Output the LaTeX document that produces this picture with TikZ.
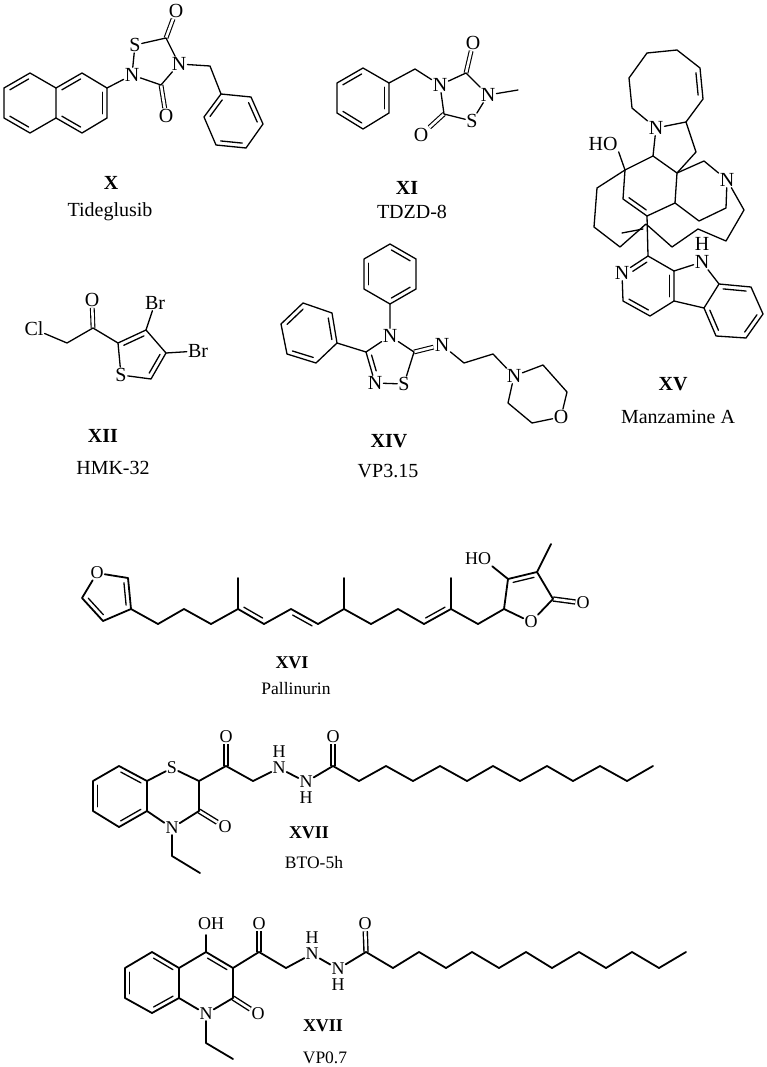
\documentclass[tikz,border=0pt]{standalone}
\usepackage{fontspec}
\setmainfont{Liberation Serif}
\usetikzlibrary{calc}
\tikzset{
	bond/.style={line width=1.3pt,line join=round,line cap=round},
	heavy/.style={line width=1.8pt,line join=round,line cap=round},
	dblbond/.style={line width=1.1pt,double,double distance=2.6pt},
	heavydbl/.style={line width=1.4pt,double,double distance=2.6pt},
	atom/.style={inner sep=1pt,font=\fontsize{20}{20}\selectfont},
	atomb/.style={inner sep=1pt,font=\fontsize{18}{18}\selectfont},
	code/.style={inner sep=0pt,font=\fontsize{20}{20}\selectfont\bfseries},
	codeb/.style={inner sep=0pt,font=\fontsize{18}{18}\selectfont\bfseries},
	drug/.style={inner sep=0pt,font=\fontsize{20}{20}\selectfont},
	drugb/.style={inner sep=0pt,font=\fontsize{17.5}{18}\selectfont}
}
% inner line of a double bond, on the right of the way from #2 to #3
\newcommand{\inbond}[4][bond]{\draw[#1] ($(#2)!.14!(#3)!4.5pt!-90:(#3)$) -- ($(#3)!.14!(#2)!4.5pt!90:(#2)$);}
\newcommand{\inbondN}[4][bond]{\draw[#1] ($(#2)!#4!(#3)!4.5pt!-90:(#3)$) -- ($(#3)!.14!(#2)!4.5pt!90:(#2)$);}
\begin{document}
\begin{tikzpicture}[x=1pt,y=-1pt]
	\useasboundingbox (0,0) rectangle (767,1067);

	% X
	\coordinate (xa) at (4,88); \coordinate (xb) at (30,73); \coordinate (xc) at (56,88);
	\coordinate (xd) at (56,118); \coordinate (xe) at (30,133); \coordinate (xf) at (4,118);
	\coordinate (xg) at (82,73); \coordinate (xh) at (107,88); \coordinate (xi) at (107,118);
	\coordinate (xj) at (82,133);
	\node[atom] (xn) at (132,75) {N};
	\node[atom] (xs) at (135,45) {S};
	\coordinate (xk) at (166,38);
	\node[atom] (xo) at (176,11) {O};
	\node[atom] (xm) at (179,64) {N};
	\coordinate (xl) at (161,85);
	\node[atom] (xp) at (166,116) {O};
	\coordinate (xq) at (210,66);
	\coordinate (xr) at (221,94); \coordinate (xt) at (251,97); \coordinate (xu) at (263,124);
	\coordinate (xv) at (246,148); \coordinate (xw) at (216,145); \coordinate (xy) at (204,117);
	\draw[dblbond] (xk) -- (xo);
	\draw[dblbond] (xl) -- (xp);
	\draw[bond] (xa) -- (xb) -- (xc) -- (xd) -- (xe) -- (xf) -- cycle;
	\draw[bond] (xc) -- (xg) -- (xh) -- (xi) -- (xj) -- (xd);
	\draw[bond] (xh) -- (xn) -- (xs) -- (xk) -- (xm) -- (xl) -- (xn);
	\draw[bond] (xm) -- (xq) -- (xr) -- (xt) -- (xu) -- (xv) -- (xw) -- (xy) -- (xr);
	\inbond{xa}{xb}{} \inbond{xe}{xf}{} \inbond{xc}{xg}{} \inbond{xh}{xi}{} \inbond{xj}{xd}{}
	\inbond{xy}{xr}{} \inbond{xt}{xu}{} \inbond{xv}{xw}{}
	\node[code] (xcode) at (111,183) {X};
	\node[drug] (xname) at (110,212) {Tideglusib};

	% XI
	\coordinate (ya) at (337,83); \coordinate (yb) at (363,68); \coordinate (yc) at (389,83);
	\coordinate (yd) at (389,113); \coordinate (ye) at (363,129); \coordinate (yf) at (337,113);
	\coordinate (yg) at (415,69);
	\node[atom] (yn) at (440,85) {N};
	\coordinate (yh) at (466,73);
	\node[atom] (yo) at (473,43) {O};
	\node[atom] (ym) at (488,95) {N};
	\coordinate (yi) at (518,90);
	\node[atom] (ys) at (472,121) {S};
	\coordinate (yj) at (444,114);
	\node[atom] (yp) at (421,135) {O};
	\draw[dblbond] (yh) -- (yo);
	\draw[dblbond] (yj) -- (yp);
	\draw[bond] (ya) -- (yb) -- (yc) -- (yd) -- (ye) -- (yf) -- cycle;
	\draw[bond] (yc) -- (yg) -- (yn) -- (yh) -- (ym) -- (ys) -- (yj) -- (yn);
	\draw[bond] (ym) -- (yi);
	\inbond{ya}{yb}{} \inbond{yc}{yd}{} \inbond{ye}{yf}{}
	\node[code] (ycode) at (407,188) {XI};
	\node[drug] (yname) at (412,212) {TDZD-8};

	% XV
	\coordinate (ma) at (629,78); \coordinate (mb) at (647,53); \coordinate (mc) at (677,50);
	\coordinate (md) at (700,68); \coordinate (me) at (703,99); \coordinate (mf) at (686,122);
	\node[atom] (mn) at (656,128) {N};
	\coordinate (mg) at (632,108);
	\coordinate (mh) at (696,152); \coordinate (mi) at (677,173); \coordinate (mj) at (653,156);
	\coordinate (mk) at (625,170);
	\node[atom] (mho) at (603,144) {HO};
	\coordinate (ml) at (597,188); \coordinate (mm) at (594,227); \coordinate (mo) at (620,247);
	\coordinate (mp) at (646,224); \coordinate (mq) at (672,247); \coordinate (mr) at (698,229);
	\coordinate (ms) at (726,241); \coordinate (mt) at (744,210);
	\node[atom] (mu) at (727,180) {N};
	\coordinate (mv) at (704,161); \coordinate (mw) at (726,208); \coordinate (mx) at (699,221);
	\coordinate (my) at (675,203); \coordinate (mz) at (647,216); \coordinate (maa) at (623,199);
	\coordinate (mab) at (648,256);
	\node[atom] (mac) at (622,273) {N};
	\coordinate (mad) at (623,301); \coordinate (mae) at (650,316); \coordinate (maf) at (674,301);
	\coordinate (mag) at (674,271);
	\node[atom] (mah) at (702,262) {N};
	\node[atom] (mai) at (702,244) {H};
	\coordinate (maj) at (719,284); \coordinate (mak) at (704,308); \coordinate (mal) at (751,287);
	\coordinate (mam) at (763,314); \coordinate (man) at (746,338); \coordinate (mao) at (716,336);
	\coordinate (map) at (622,233); \coordinate (maq) at (643,229);
	\draw[bond] (mn) -- (mg) -- (ma) -- (mb) -- (mc) -- (md) -- (me) -- (mf) -- (mn);
	\draw[bond] (mf) -- (mh) -- (mi) -- (mj) -- (mn);
	\draw[bond] (mj) -- (mk) -- (ml) -- (mm) -- (mo) -- (mp) -- (mq) -- (mr) -- (ms) -- (mt) -- (mu);
	\draw[bond] (mk) -- (mho.south east);
	\draw[bond] (mi) -- (mv) -- (mu) -- (mw) -- (mx) -- (my) -- (mi);
	\draw[bond] (my) -- (mz) -- (maa) -- (mk);
	\draw[bond] (mz) -- (mab) -- (mac) -- (mad) -- (mae) -- (maf) -- (mag) -- (mab);
	\draw[bond] (mag) -- (mah) -- (maj) -- (mak) -- (maf);
	\draw[bond] (maj) -- (mal) -- (mam) -- (man) -- (mao) -- (mak);
	\draw[bond] (map) -- (maq);
	\inbond{md}{me}{} \inbond{mz}{maa}{}
	\inbondN{mac}{mab}{.32} \inbond{mag}{maf}{} \inbond{mae}{mad}{}
	\inbond{maj}{mal}{} \inbond{mam}{man}{} \inbond{mao}{mak}{}
	\node[code] (mcode) at (673,384) {XV};
	\node[drug] (mname) at (678,417) {Manzamine A};

	% XII
	\node[atom] (tcl) at (34,329) {Cl};
	\coordinate (ta) at (67,343); \coordinate (tb) at (93,328);
	\node[atom] (to) at (92,300) {O};
	\coordinate (tc) at (118,343); \coordinate (td) at (146,330);
	\node[atom] (tbr) at (155,303) {Br};
	\coordinate (te) at (166,353);
	\node[atom] (tbs) at (198,351) {Br};
	\coordinate (tf) at (151,379);
	\node[atom] (ts) at (121,375) {S};
	\draw[dblbond] (tb) -- (to);
	\draw[bond] (tcl) -- (ta) -- (tb) -- (tc) -- (td) -- (te) -- (tf) -- (ts) -- (tc);
	\draw[bond] (td) -- (tbr);
	\draw[bond] (te) -- (tbs);
	\inbond{tc}{td}{} \inbond{te}{tf}{}
	\node[code] (tcode) at (103,436) {XII};
	\node[drug] (tname) at (113,468) {HMK-32};

	% XIV
	\coordinate (va) at (390,244); \coordinate (vb) at (416,259); \coordinate (vc) at (416,289);
	\coordinate (vd) at (390,304); \coordinate (ve) at (364,289); \coordinate (vf) at (364,259);
	\node[atom] (vn) at (390,336) {N};
	\coordinate (vg) at (414,352);
	\node[atom] (vm) at (442,345) {N};
	\node[atom] (vs) at (404,384) {S};
	\node[atom] (vp) at (375,383) {N};
	\coordinate (vh) at (366,352);
	\coordinate (vi) at (337,343); \coordinate (vj) at (332,313); \coordinate (vk) at (303,303);
	\coordinate (vl) at (281,324); \coordinate (vt) at (287,354); \coordinate (vu) at (316,363);
	\coordinate (vv) at (464,363); \coordinate (vw) at (493,354);
	\node[atom] (vx) at (514,376) {N};
	\coordinate (vy) at (543,365); \coordinate (vz) at (567,392);
	\node[atom] (vo) at (561,417) {O};
	\coordinate (vaa) at (532,423); \coordinate (vab) at (508,403);
	\draw[dblbond] (vg) -- (vm);
	\draw[bond] (va) -- (vb) -- (vc) -- (vd) -- (ve) -- (vf) -- cycle;
	\draw[bond] (vd) -- (vn) -- (vg) -- (vs) -- (vp) -- (vh) -- (vn);
	\draw[bond] (vh) -- (vi) -- (vj) -- (vk) -- (vl) -- (vt) -- (vu) -- (vi);
	\draw[bond] (vm) -- (vv) -- (vw) -- (vx) -- (vy) -- (vz) -- (vo) -- (vaa) -- (vab) -- (vx);
	\inbond{va}{vb}{} \inbond{vc}{vd}{} \inbond{ve}{vf}{}
	\inbond{vj}{vi}{} \inbond{vl}{vk}{} \inbond{vu}{vt}{}
	\inbondN{vp}{vh}{.35}
	\node[code] (vcode) at (389,441) {XIV};
	\node[drug] (vname) at (388,471) {VP3.15};

	% XVI
	\node[atomb] (po) at (97,573) {O};
	\coordinate (pa) at (128,578); \coordinate (pb) at (131,609);
	\coordinate (pc) at (103,621); \coordinate (pd) at (82,598);
	\coordinate (pe) at (158,624); \coordinate (pf) at (184,609); \coordinate (pg) at (211,624);
	\coordinate (ph) at (238,609); \coordinate (pi) at (238,578); \coordinate (pj) at (264,624);
	\coordinate (pk) at (291,609); \coordinate (pl) at (318,624); \coordinate (pm) at (344,609);
	\coordinate (pn) at (344,578); \coordinate (pp) at (371,624); \coordinate (pq) at (398,609);
	\coordinate (pr) at (424,624); \coordinate (ps) at (451,609); \coordinate (pt) at (451,578);
	\coordinate (pu) at (478,624); \coordinate (pv) at (504,609);
	\node[atomb] (pw) at (531,622) {O};
	\coordinate (px) at (553,599);
	\node[atomb] (py) at (583,603) {O};
	\coordinate (pz) at (537,572); \coordinate (paa) at (551,544); \coordinate (pab) at (508,579);
	\node[atomb] (pho) at (478,559) {HO};
	\draw[heavydbl] (px) -- (py);
	\draw[heavy] (po) -- (pa) -- (pb) -- (pc) -- (pd) -- (po);
	\draw[heavy] (pb) -- (pe) -- (pf) -- (pg) -- (ph) -- (pj) -- (pk) -- (pl) -- (pm) -- (pp) -- (pq) -- (pr) -- (ps) -- (pu) -- (pv) -- (pab) -- (pz) -- (px) -- (pw) -- (pv);
	\draw[heavy] (ph) -- (pi);
	\draw[heavy] (pm) -- (pn);
	\draw[heavy] (ps) -- (pt);
	\draw[heavy] (pz) -- (paa);
	\draw[heavy] (pab) -- (pho.south east);
	\inbond{pa}{pb}{} \inbond{pc}{pd}{} \inbond{pj}{ph}{} \inbond{pk}{pl}{} \inbond{ps}{pr}{} \inbond{pab}{pz}{}
	\node[codeb] (pcode) at (292,663) {XVI};
	\node[drugb] (pname) at (296,689) {Pallinurin};

	% XVII, BTO-5h
	\coordinate (ba) at (93,781); \coordinate (bb) at (119,766); \coordinate (bc) at (147,781);
	\coordinate (bd) at (147,811); \coordinate (be) at (119,827); \coordinate (bf) at (93,811);
	\node[atomb] (bs) at (172,768) {S};
	\coordinate (bg) at (199,781); \coordinate (bh) at (199,811);
	\node[atomb] (bo) at (225,827) {O};
	\node[atomb] (bn) at (172,828) {N};
	\coordinate (bi) at (172,856); \coordinate (bj) at (200,873);
	\coordinate (bk) at (226,766);
	\node[atomb] (bp) at (226,737) {O};
	\coordinate (bl) at (253,781);
	\node[atomb] (bm) at (279,768) {N};
	\node[atomb] (bq) at (279,752) {H};
	\node[atomb] (br) at (306,782) {N};
	\node[atomb] (bt) at (306,798) {H};
	\coordinate (bu) at (333,766);
	\node[atomb] (bv) at (333,737) {O};
	\coordinate (bw) at (359,781);
	\draw[heavydbl] (bh) -- (bo);
	\draw[heavydbl] (bk) -- (bp);
	\draw[heavydbl] (bu) -- (bv);
	\draw[heavy] (ba) -- (bb) -- (bc) -- (bd) -- (be) -- (bf) -- cycle;
	\draw[heavy] (bc) -- (bs) -- (bg) -- (bh) -- (bn) -- (bd);
	\draw[heavy] (bn) -- (bi) -- (bj);
	\draw[heavy] (bg) -- (bk) -- (bl) -- (bm) -- (br) -- (bu) -- (bw) -- (386,766) -- (413,781) -- (440,766) -- (467,781) -- (493,766) -- (520,781) -- (547,766) -- (573,781) -- (600,766) -- (627,781) -- (653,766);
	\inbond{bb}{bc}{} \inbond{bd}{be}{} \inbond{bf}{ba}{}
	\node[codeb] (bcode) at (309,833) {XVII};
	\node[drugb] (bname) at (314,863) {BTO-5h};

	% XVII, VP0.7
	\coordinate (qa) at (125,968); \coordinate (qb) at (152,952); \coordinate (qc) at (179,968);
	\coordinate (qd) at (179,998); \coordinate (qe) at (152,1013); \coordinate (qf) at (125,998);
	\coordinate (qg) at (206,952);
	\node[atomb] (qh) at (211,924) {OH};
	\coordinate (qi) at (233,968); \coordinate (qj) at (233,998);
	\node[atomb] (qo) at (258,1014) {O};
	\node[atomb] (qn) at (206,1014) {N};
	\coordinate (qk) at (206,1043); \coordinate (ql) at (233,1059);
	\coordinate (qm) at (259,952);
	\node[atomb] (qp) at (259,924) {O};
	\coordinate (qq) at (286,968);
	\node[atomb] (qr) at (312,954) {N};
	\node[atomb] (qs) at (312,938) {H};
	\node[atomb] (qt) at (338,969) {N};
	\node[atomb] (qu) at (338,985) {H};
	\coordinate (qv) at (366,952);
	\node[atomb] (qw) at (365,924) {O};
	\draw[heavydbl] (qj) -- (qo);
	\draw[heavydbl] (qm) -- (qp);
	\draw[heavydbl] (qv) -- (qw);
	\draw[heavy] (qa) -- (qb) -- (qc) -- (qd) -- (qe) -- (qf) -- cycle;
	\draw[heavy] (qc) -- (qg) -- (qi) -- (qj) -- (qn) -- (qd);
	\draw[heavy] (qg) -- (206,935);
	\draw[heavy] (qn) -- (qk) -- (ql);
	\draw[heavy] (qi) -- (qm) -- (qq) -- (qr) -- (qt) -- (qv) -- (393,968) -- (419,952) -- (446,968) -- (472,952) -- (499,968) -- (526,952) -- (552,968) -- (579,952) -- (606,968) -- (632,952) -- (659,968) -- (686,952);
	\inbond{qb}{qc}{} \inbond{qd}{qe}{} \inbond{qf}{qa}{} \inbond{qg}{qi}{}
	\node[codeb] (qcode) at (323,1026) {XVII};
	\node[drugb] (qname) at (325,1058) {VP0.7};
\end{tikzpicture}
\end{document}
